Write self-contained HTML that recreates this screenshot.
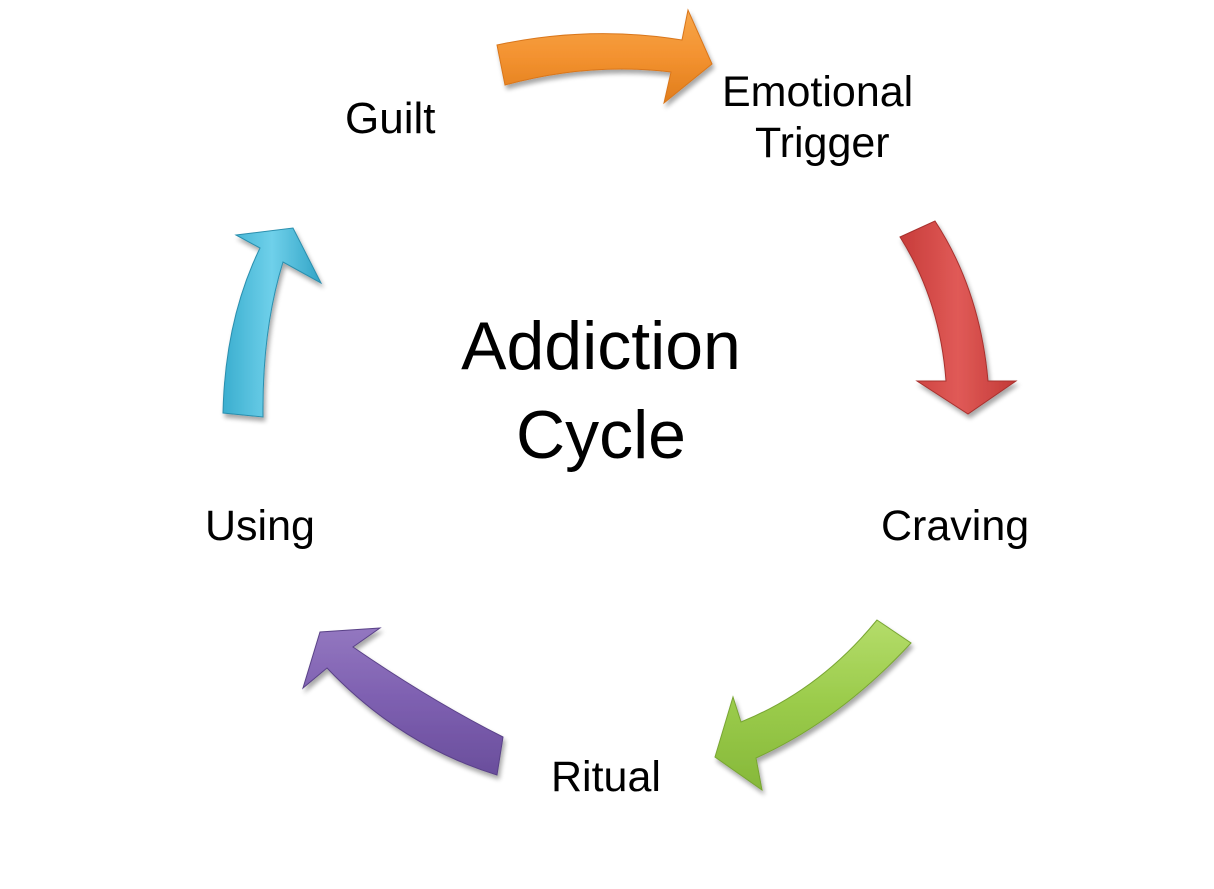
<!DOCTYPE html>
<html><head><meta charset="utf-8"><style>
html,body{margin:0;padding:0;background:#fff;}
svg{display:block;}
text{font-family:"Liberation Sans",Arial,sans-serif;fill:#000;}
</style></head><body>
<svg width="1214" height="889" viewBox="0 0 1214 889" xmlns="http://www.w3.org/2000/svg">
<defs>
<filter id="sh" x="-20%" y="-20%" width="140%" height="140%"><feGaussianBlur in="SourceAlpha" stdDeviation="2.5"/><feOffset dx="2" dy="4"/><feComponentTransfer><feFuncA type="linear" slope="0.35"/></feComponentTransfer><feMerge><feMergeNode/><feMergeNode in="SourceGraphic"/></feMerge></filter>
<linearGradient id="go" x1="0" y1="0" x2="0" y2="1"><stop offset="0" stop-color="#f7a64a"/><stop offset="0.5" stop-color="#f39230"/><stop offset="1" stop-color="#e07d1c"/></linearGradient>
<linearGradient id="gr" x1="0" y1="0" x2="1" y2="0"><stop offset="0" stop-color="#c73c3a"/><stop offset="0.5" stop-color="#e05a57"/><stop offset="1" stop-color="#c23a37"/></linearGradient>
<linearGradient id="gg" x1="0" y1="0" x2="0" y2="1"><stop offset="0" stop-color="#b4dc6a"/><stop offset="0.5" stop-color="#9acb4a"/><stop offset="1" stop-color="#86b83a"/></linearGradient>
<linearGradient id="gp" x1="0" y1="0" x2="0" y2="1"><stop offset="0" stop-color="#9377c0"/><stop offset="0.5" stop-color="#7d5fb0"/><stop offset="1" stop-color="#6a4e9c"/></linearGradient>
<linearGradient id="gc" x1="0" y1="0" x2="1" y2="0"><stop offset="0" stop-color="#3aaecf"/><stop offset="0.5" stop-color="#6fd0ea"/><stop offset="1" stop-color="#32a4c6"/></linearGradient>
</defs>
<g filter="url(#sh)">
<path d="M497,45 Q590,25 682,40 L688,10 L712,64 L664,103 L671,72 Q590,62 505,85 Z" fill="url(#go)" stroke="#d9761a" stroke-width="1"/>
<path d="M900,237 L935,221 Q980,290 988,381 L1016,381 L968,414 L917,381 L946,381 Q940,300 900,237 Z" fill="url(#gr)" stroke="#a8302e" stroke-width="1"/>
<path d="M877,620 L911,643 Q840,720 756,758 L762,790 L715,757 L733,697 L741,722 Q820,690 877,620 Z" fill="url(#gg)" stroke="#78a532" stroke-width="1"/>
<path d="M303,688 L320,632 L380,628 L353,647 Q430,700 503,737 L497,775 Q400,745 327,668 Z" fill="url(#gp)" stroke="#5a4288" stroke-width="1"/>
<path d="M236,235 L293,228 L321,283 L283,262 Q262,330 263,417 L223,413 Q225,320 260,248 Z" fill="url(#gc)" stroke="#2a8fae" stroke-width="1"/>
</g>
<text x="345" y="133" font-size="44">Guilt</text>
<text x="722" y="106" font-size="43">Emotional</text>
<text x="755" y="157" font-size="43">Trigger</text>
<text x="881" y="540" font-size="43">Craving</text>
<text x="205" y="540" font-size="43">Using</text>
<text x="551" y="791" font-size="43">Ritual</text>
<text x="601" y="369" font-size="68" text-anchor="middle">Addiction</text>
<text x="601" y="458" font-size="68" text-anchor="middle">Cycle</text>
</svg>
</body></html>
